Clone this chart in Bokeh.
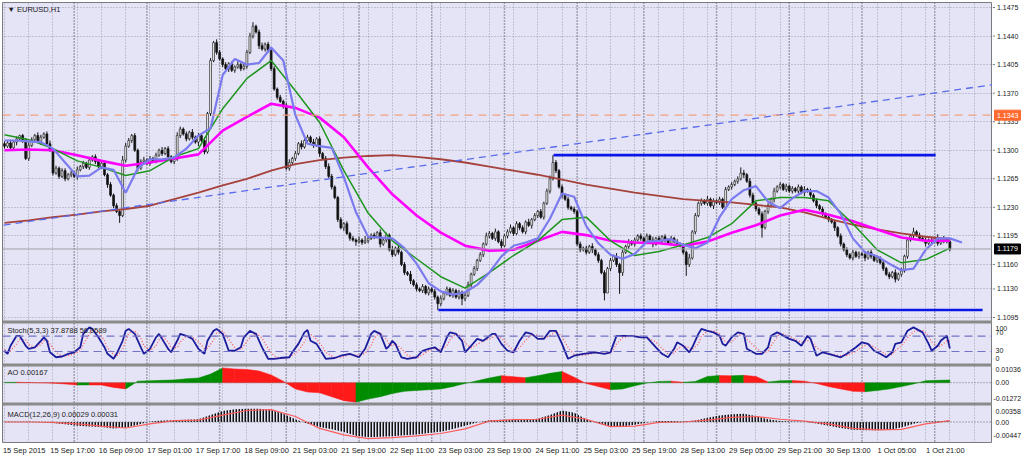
import numpy as np
from bokeh.plotting import figure
from bokeh.layouts import row
from bokeh.models import Range1d, FixedTicker, Span, BoxAnnotation, Label, Slope
from bokeh.core.properties import value
from bokeh.embed import file_html
from bokeh.resources import INLINE

# ---------------- DATA ----------------
BASE = 1.1
PIP = 0.0001

# EURUSD H1 closes, in pips above 1.1000, one per bar
closes_pips = [
    305, 309, 303, 310, 314, 318, 312, 290, 306, 313,
    318, 311, 316, 320, 308, 300, 272, 278, 268, 275,
    265, 270, 272, 268, 276, 280, 284, 279, 288, 292,
    286, 280, 284, 270, 258, 245, 232, 225, 220, 288,
    305, 312, 318, 300, 278, 286, 288, 284, 290, 287,
    294, 300, 296, 302, 292, 286, 289, 318, 326, 320,
    314, 322, 316, 310, 318, 312, 298, 345, 410, 432,
    420, 412, 405, 400, 406, 398, 402, 405, 400, 403,
    420, 440, 452, 445, 428, 424, 430, 422, 400, 375,
    365, 360, 355, 278, 285, 290, 296, 308, 304, 312,
    316, 310, 306, 314, 296, 290, 280, 268, 255, 242,
    215, 205, 210, 198, 192, 190, 188, 190, 187, 189,
    192, 196, 194, 199, 185, 190, 196, 178, 172, 180,
    175, 160, 150, 148, 140, 135, 130, 128, 133, 125,
    130, 127, 120, 112, 118, 125, 130, 122, 128, 120,
    126, 118, 122, 135, 148, 155, 165, 172, 185, 195,
    198, 192, 200, 188, 183, 195, 200, 205, 198, 210,
    205, 200, 212, 208, 215, 220, 225, 218, 235, 250,
    265, 285, 275, 255, 245, 240, 230, 228, 225, 185,
    178, 180, 175, 182, 178, 172, 165, 150, 125, 155,
    165, 170, 160, 150, 175, 182, 188, 185, 190, 195,
    192, 188, 195, 190, 185, 192, 188, 194, 190, 186,
    192, 188, 185, 183, 175, 160, 168, 200, 220, 235,
    238, 235, 240, 232, 238, 236, 240, 230, 252, 255,
    258, 262, 265, 272, 270, 262, 245, 235, 228, 222,
    205, 225, 232, 240, 250, 255, 258, 252, 256, 250,
    253, 250, 255, 248, 252, 250, 245, 238, 232, 228,
    222, 218, 215, 212, 205, 195, 185, 178, 172, 168,
    175, 170, 173, 172, 168, 175, 170, 165, 168, 162,
    155, 148, 145, 150, 142, 148, 152, 170, 190, 195,
    200, 196, 192, 190, 186, 190, 188, 192, 186, 189,
    191, 188, 179,
]
first_open_pips = 308
# upper / lower wick length per bar, in pips (base-36 digits)
hi_wick = "".join([
    "3242312343", "2432342323", "3232423242", "3243232325", "4323234232",
    "3242323432", "3242324232", "4323232423", "3452342323", "2323423242",
    "3242323432", "2323232426", "3232423252", "3232423232", "3232423232",
    "3234232324", "3242323423", "2324232323", "4932323232", "3232423232",
    "3242323232", "3232423232", "3232325232", "3242323232", "3237424322",
    "3232423232", "3232423232", "3232323232", "3232423232", "3232424232",
    "5232424252", "423"])
lo_wick = "".join([
    "3232423232", "3242323232", "3232423232", "3232423292", "3232423232",
    "3232423232", "3232523232", "3232423232", "3232423232", "3242323232",
    "3232423232", "3242325232", "3232423232", "3232423232", "3238323232",
    "3832323232", "3232423232", "3232423232", "3232423232", "3232423290",
    "323q423232", "3232423232", "32323e3232", "3232423232", "3232423232",
    "c232423232", "3232423232", "3232423232", "3232423232", "3232423232",
    "3232423232", "323"])

# moving averages, pips above 1.1000 (knots every 8 bars, blue every 4 bars)
ma_step = 8
ma_brown = [211, 214, 218, 221, 225, 228, 232, 240, 248, 257,
            265, 275, 283, 288, 291, 293, 294, 292, 289, 285,
            280, 275, 270, 264, 258, 253, 248, 244, 240, 238,
            236, 233, 230, 224, 216, 209, 203, 198, 194, 191]
ma_magenta = [300, 301, 300, 294, 287, 281, 285, 290, 295, 324,
              341, 357, 352, 340, 316, 279, 246, 220, 199, 183,
              177, 178, 189, 200, 196, 189, 187, 186, 183, 188,
              199, 208, 220, 227, 221, 213, 203, 193, 189, 189]
ma_green = [319, 313, 302, 287, 279, 269, 275, 292, 302, 351,
            388, 410, 373, 334, 275, 223, 189, 167, 145, 131,
            150, 171, 189, 215, 218, 189, 171, 176, 184, 193,
            210, 238, 242, 242, 238, 210, 178, 162, 166, 180]
blue_step = 4
ma_blue = [312, 312, 311, 310, 302, 285, 268, 269, 279, 276,
           248, 278, 289, 289, 291, 302, 318, 327, 392, 412,
           405, 407, 426, 410, 343, 308, 305, 303, 267, 224,
           194, 193, 192, 180, 161, 137, 127, 123, 126, 135,
           150, 170, 183, 187, 192, 216, 247, 243, 207, 186,
           172, 167, 173, 188, 189, 191, 184, 180, 187, 218,
           240, 251, 256, 237, 229, 241, 250, 250, 242, 222,
           192, 175, 170, 161, 153, 155, 178, 192, 192, 187]

# drawn objects
trend_bars = [37, 300]
trend_prices = [1.12280, 1.13666]
resist_bars = [181.2, 307.3]
resist_price = 1.1294
support_bars = [143.2, 322.8]
support_price = 1.11042
level_orange = 1.1343
bid_price = 1.1179

# Stochastic(5,3,3)
stoch_bar = [0, 1, 2, 4, 5, 7, 8, 10, 12, 13,
             14, 15, 17, 19, 21, 23, 25, 26, 28, 29,
             31, 33, 34, 36, 37, 39, 40, 41, 43, 45,
             46, 48, 50, 51, 52, 54, 55, 57, 58, 60,
             62, 64, 66, 67, 69, 70, 72, 74, 76, 78,
             79, 81, 83, 85, 87, 89, 91, 94, 95, 97,
             99, 100, 101, 103, 105, 106, 109, 111, 114, 117,
             119, 121, 122, 124, 126, 127, 128, 129, 131, 133,
             136, 138, 140, 142, 144, 146, 147, 149, 151, 152,
             154, 156, 158, 161, 162, 164, 166, 168, 170, 172,
             174, 176, 178, 180, 182, 184, 186, 188, 191, 195,
             198, 200, 201, 202, 204, 207, 210, 212, 215, 217,
             219, 221, 222, 224, 226, 227, 229, 230, 232, 234,
             236, 237, 238, 240, 242, 244, 245, 248, 250, 252,
             253, 255, 256, 259, 261, 263, 265, 266, 268, 270,
             272, 274, 276, 278, 281, 283, 285, 287, 289, 291,
             293, 294, 296, 298, 300, 303, 305, 306, 308, 309,
             311, 312]
stoch_k = [32, 24, 45, 71, 71, 45, 37, 41, 58, 67,
           58, 28, 15, 17, 24, 28, 41, 76, 93, 89,
           67, 41, 24, 11, 24, 58, 84, 89, 76, 41,
           24, 37, 67, 76, 63, 37, 28, 58, 76, 71,
           63, 37, 24, 58, 84, 89, 76, 32, 32, 41,
           67, 84, 76, 41, 11, 11, 13, 15, 28, 50,
           80, 86, 58, 50, 24, 11, 13, 19, 24, 15,
           37, 76, 84, 76, 37, 45, 58, 50, 15, 11,
           15, 32, 37, 41, 28, 67, 80, 76, 58, 28,
           45, 63, 58, 76, 76, 50, 32, 28, 58, 80,
           76, 63, 63, 84, 84, 50, 11, 19, 24, 28,
           24, 28, 50, 71, 71, 71, 67, 67, 41, 24,
           15, 37, 54, 45, 28, 41, 76, 89, 84, 80,
           71, 50, 45, 67, 80, 76, 37, 24, 24, 41,
           71, 80, 76, 63, 58, 45, 71, 63, 19, 28,
           24, 19, 15, 24, 41, 54, 50, 32, 24, 15,
           28, 50, 54, 84, 93, 80, 50, 32, 45, 58,
           71, 38]
stoch_d = [35, 30, 32, 50, 62, 60, 48, 40, 48, 58,
           62, 50, 28, 18, 19, 24, 32, 48, 75, 86,
           82, 58, 40, 22, 18, 35, 58, 78, 84, 65,
           45, 32, 45, 60, 70, 55, 40, 40, 55, 70,
           68, 55, 38, 38, 60, 78, 84, 62, 40, 35,
           45, 66, 78, 65, 38, 18, 12, 14, 20, 32,
           55, 72, 75, 62, 42, 28, 14, 15, 22, 20,
           25, 45, 65, 80, 62, 50, 45, 50, 38, 20,
           12, 22, 32, 38, 35, 45, 60, 76, 70, 52,
           40, 48, 58, 66, 72, 65, 48, 32, 40, 60,
           74, 72, 64, 72, 82, 70, 40, 22, 20, 26,
           26, 26, 35, 50, 66, 71, 69, 67, 55, 38,
           24, 25, 36, 45, 40, 35, 50, 70, 83, 84,
           76, 65, 55, 55, 70, 78, 62, 40, 26, 30,
           45, 68, 78, 70, 62, 54, 58, 62, 40, 30,
           24, 22, 19, 20, 30, 42, 50, 42, 32, 22,
           22, 32, 45, 65, 82, 86, 70, 55, 42, 45,
           58, 56]
stoch_levels = [70, 30]

# Awesome Oscillator (units of 0.0001), every 4 bars
osc_step = 4
ao_vals = [2, 3, 1, -1, -3, -8, -15, -14, -15, -30,
           -40, 10, 12, 15, 18, 25, 30, 55, 95, 88,
           85, 75, 50, 10, -40, -60, -65, -90, -115, -125,
           -105, -90, -70, -55, -50, -45, -40, -25, -5, 12,
           30, 45, 38, 32, 45, 60, 72, 35, -5, -25,
           -45, -40, -20, -2, 8, 10, 3, 8, 40, 46,
           44, 47, 40, 5, 12, 14, 10, -5, -25, -40,
           -55, -58, -50, -40, -25, -8, 12, 15, 17]
# MACD(12,26,9) histogram (units of 0.00001), every 4 bars; signal every 8 bars
macd_vals = [5, 8, 5, 0, -20, -50, -80, -100, -110, -140,
             -120, -60, 10, 30, 40, 50, 60, 150, 240, 280,
             290, 290, 260, 180, 60, -40, -110, -160, -220, -300,
             -330, -320, -310, -290, -270, -240, -210, -150, -80, -10,
             40, 50, 50, 50, 70, 150, 250, 200, 60, -40,
             -90, -100, -60, -10, 20, 20, 10, 30, 90, 140,
             170, 180, 130, 60, 20, 10, 5, -30, -80, -130,
             -170, -180, -180, -170, -120, -40, 10, 15, 29]
macd_signal = [0, 0, -10, -40, -90, -130, -40, 30, 40, 150,
               250, 270, 120, -140, -280, -360, -340, -300, -250, -150,
               20, 50, 60, 150, 60, -100, -90, -10, 0, 40,
               100, 120, 60, 20, -40, -140, -170, -160, -40, 31]

price_ticks = [1.1475, 1.1440, 1.1405, 1.1370, 1.1335, 1.1300,
               1.1265, 1.1230, 1.1195, 1.1160, 1.1130, 1.1095]
stoch_scale = ["100", "70", "30", "0"]
ao_scale = ["0.01036", "0.00", "-0.01272"]
macd_scale = ["0.00358", "0.00", "-0.00447"]
time_labels = ["15 Sep 2015", "15 Sep 17:00", "16 Sep 09:00", "17 Sep 01:00",
               "17 Sep 17:00", "18 Sep 09:00", "21 Sep 03:00", "21 Sep 19:00",
               "22 Sep 11:00", "23 Sep 03:00", "23 Sep 19:00", "24 Sep 11:00",
               "25 Sep 03:00", "25 Sep 19:00", "28 Sep 13:00", "29 Sep 05:00",
               "29 Sep 21:00", "30 Sep 13:00", "1 Oct 05:00", "1 Oct 21:00"]
label_every = 16
day_start_bars = [23, 47, 71, 93, 117, 141, 165, 189, 211, 235, 259, 283, 307]

# ---------------- LAYOUT ----------------
FONT = "Liberation Sans"
FS = "7.5px"
FS_SCALE = "7px"
BG = "#e4e4f6"
TOP_PX, BOT_PX = 2.0, 442.0          # frame top / bottom in page pixels
BAR0_PX, BAR_PX = 4.0, 3.03          # x pixel of bar 0, pixels per bar
FRAME_L, FRAME_R = 2.0, 992.0

def panel_range(px0, val0, px_per_unit):
    """range whose value val0 sits at pixel px0, scale px_per_unit, over the whole frame"""
    return Range1d(val0 - (BOT_PX - px0) / px_per_unit, val0 + (px0 - TOP_PX) / px_per_unit)

PR = panel_range(7.0, 1.1475, 8158.0)
ranges = {
    "stoch": panel_range(362.5, 0.0, 0.383),
    "ao": panel_range(382.2, 0.0, 1560.0),
    "macd": panel_range(421.5, 0.0, 4596.0),
}
def px_to_price(px):
    return PR.end - (px - TOP_PX) / (BOT_PX - TOP_PX) * (PR.end - PR.start)

X0 = (FRAME_L - BAR0_PX) / BAR_PX
X1 = (FRAME_R - BAR0_PX) / BAR_PX

p = figure(width=992, height=457, x_range=Range1d(X0, X1), y_range=PR,
           y_axis_location=None, output_backend="svg", toolbar_location=None,
           min_border_left=2, min_border_right=0, min_border_top=2, min_border_bottom=15,
           background_fill_color=BG, border_fill_color="white")
p.extra_y_ranges = ranges
p.outline_line_color = "#7c7c7c"

xt = [label_every * k + 6.5 for k in range(len(time_labels))]
xa = p.xaxis[0]
xa.ticker = FixedTicker(ticks=xt)
xa.major_label_overrides = {t: s for t, s in zip(xt, time_labels)}
xa.major_label_text_font = FONT
xa.major_label_text_font_size = FS
xa.major_label_text_color = "#202020"
xa.major_label_standoff = 3
xa.major_tick_out = 0
xa.major_tick_in = 0
xa.minor_tick_line_color = None
xa.axis_line_color = None

p.xgrid.ticker = FixedTicker(ticks=list(range(0, 328, 8)))
p.xgrid.grid_line_color = "#9c9cb0"
p.xgrid.grid_line_dash = "1 2"
p.ygrid.ticker = FixedTicker(ticks=price_ticks)
p.ygrid.grid_line_color = "#9c9cb0"
p.ygrid.grid_line_dash = "1 2"

for b in day_start_bars:
    p.add_layout(Span(location=b, dimension="height", line_color="#5c5c6c",
                      line_dash="1 2", line_width=1.5, level="underlay"))

# ---------------- PRICE PANEL ----------------
c = BASE + np.array(closes_pips) * PIP
o = np.r_[BASE + first_open_pips * PIP, c[:-1]]
n = len(c)
hw = np.array([int(ch, 36) for ch in hi_wick.ljust(n, "2")[:n]]) * PIP
lw = np.array([int(ch, 36) for ch in lo_wick.ljust(n, "2")[:n]]) * PIP
h = np.maximum(o, c) + hw
l = np.minimum(o, c) - lw
bars = np.arange(n)

p.add_layout(Span(location=bid_price, dimension="width", line_color="#a0a0a8", line_width=1))
p.segment(bars, h, bars, l, line_color="#161616", line_width=1)
up = c >= o
p.vbar(bars[up], 0.62, c[up], o[up], fill_color="#f2f2f2", line_color="#262626", line_width=0.7)
p.vbar(bars[~up], 0.62, o[~up], c[~up], fill_color="#111111", line_color="#111111", line_width=0.7)

ma_x = [ma_step * k for k in range(len(ma_brown))]
p.line(ma_x, BASE + np.array(ma_brown) * PIP, line_color="#a6423c", line_width=1.8)
p.line(ma_x, BASE + np.array(ma_magenta) * PIP, line_color="#ff00ff", line_width=2.6)
p.line(ma_x, BASE + np.array(ma_green) * PIP, line_color="#1e961e", line_width=1.5)
bx = [blue_step * k for k in range(len(ma_blue))]
p.line(bx, BASE + np.array(ma_blue) * PIP, line_color="#7b7bef", line_width=2.2)

grad = (trend_prices[1] - trend_prices[0]) / (trend_bars[1] - trend_bars[0])
p.add_layout(Slope(gradient=grad, y_intercept=trend_prices[0] - grad * trend_bars[0],
                   line_color="#5a6cec", line_width=1.3, line_dash="7 5"))
p.add_layout(Span(location=level_orange, dimension="width", line_color="#f2a07c",
                  line_width=1.3, line_dash="8 6"))
p.line(resist_bars, [resist_price] * 2, line_color="#0a16e8", line_width=2.6)
p.line(support_bars, [support_price] * 2, line_color="#0a16e8", line_width=2.6)

# ---------------- STOCHASTIC ----------------
for lv in stoch_levels:
    p.add_layout(Span(location=lv, dimension="width", y_range_name="stoch",
                      line_color="#7272c6", line_width=1.2, line_dash="8 5"))
p.line(stoch_bar, stoch_d, y_range_name="stoch", line_color="#ff5858", line_width=1.3, line_dash="1 2")
p.line(stoch_bar, stoch_k, y_range_name="stoch", line_color="#1c1c9c", line_width=1.8)

# ---------------- AO ----------------
ao = np.array(ao_vals) * 1e-4
ax_b = [osc_step * k for k in range(len(ao))]
xs, ys, cols = [], [], []
for k in range(len(ao) - 1):
    xs.append([ax_b[k], ax_b[k], ax_b[k + 1], ax_b[k + 1]])
    ys.append([0, ao[k], ao[k + 1], 0])
    cols.append("#008c00" if ao[k + 1] >= ao[k] else "#ff1a1a")
p.patches(xs, ys, fill_color=cols, line_color=cols, line_width=0.5, y_range_name="ao")
p.add_layout(Span(location=0, dimension="width", y_range_name="ao",
                  line_color="#707070", line_dash="1 2", line_width=1))

# ---------------- MACD ----------------
md = np.array(macd_vals) * 1e-5
p.varea(x=ax_b, y1=[0] * len(md), y2=md, y_range_name="macd", fill_alpha=0,
        hatch_pattern="vertical_line", hatch_color="#111111", hatch_scale=3, hatch_weight=2.0)
p.add_layout(Span(location=0, dimension="width", y_range_name="macd",
                  line_color="#606060", line_dash="1 2", line_width=1))
p.line(ma_x, np.array(macd_signal) * 1e-5, y_range_name="macd", line_color="#ff5c5c", line_width=1.2)

# ---------------- separators & labels ----------------
for top_px, bot_px in [(320.0, 323.0), (363.0, 366.0), (402.0, 405.0)]:
    p.add_layout(BoxAnnotation(bottom=px_to_price(bot_px), top=px_to_price(top_px),
                               fill_color="#8a8a8a", fill_alpha=1, line_alpha=0))

def lab(text, px_y):
    p.add_layout(Label(x=1.0, y=px_to_price(px_y), text=text, text_font=FONT,
                       text_font_size=FS, text_color="#222222", text_baseline="middle"))

lab("\u25bc EURUSD,H1", 9.0)
lab("Stoch(5,3,3) 37.8788 56.0589", 330.0)
lab("AO 0.00167", 372.0)
lab("MACD(12,26,9) 0.00029 0.00031", 414.0)

# ---------------- right scale strip (shares the price range) ----------------
s = figure(width=32, height=457, x_range=Range1d(0, 32), y_range=PR,
           x_axis_location=None, y_axis_location=None, output_backend="svg",
           toolbar_location=None, min_border_left=0, min_border_right=0,
           min_border_top=2, min_border_bottom=15,
           background_fill_color="white", border_fill_color="white")
s.outline_line_color = None
s.grid.visible = False

# price scale
s.segment(x0=[0] * len(price_ticks), x1=[2.5] * len(price_ticks), y0=price_ticks, y1=price_ticks,
          line_color="#808080", line_width=1)
s.text(x=[4.5] * len(price_ticks), y=price_ticks, text=["%.4f" % t for t in price_ticks],
       text_font=value(FONT), text_font_size=value(FS_SCALE),
       text_color="#202020", text_baseline="middle", text_align="left")

# indicator scales
scale_px = [328.0, 332.0, 350.0, 358.0, 369.0, 382.2, 397.7, 411.0, 421.7, 435.0]
scale_txt = stoch_scale + ao_scale + macd_scale
sy = [px_to_price(v) for v in scale_px]
sx = [1.0 if t.startswith("-") else 3.0 for t in scale_txt]
s.text(x=sx, y=sy, text=scale_txt, text_font=value(FONT), text_font_size=value(FS_SCALE),
       text_color="#202020", text_baseline="middle", text_align="left")

box_levels = [level_orange, bid_price]
box_colors = ["#ff6a30", "#000000"]
s.rect(x=[15, 15], y=box_levels, width=26, height=10, height_units="screen",
       fill_color=box_colors, line_color=box_colors)
s.text(x=[4.5, 4.5], y=box_levels, text=["%.4f" % v for v in box_levels], text_font=value(FONT),
       text_font_size=value(FS_SCALE), text_color="white", text_baseline="middle", text_align="left")

open("out.html", "w").write(file_html(row(p, s), INLINE))
